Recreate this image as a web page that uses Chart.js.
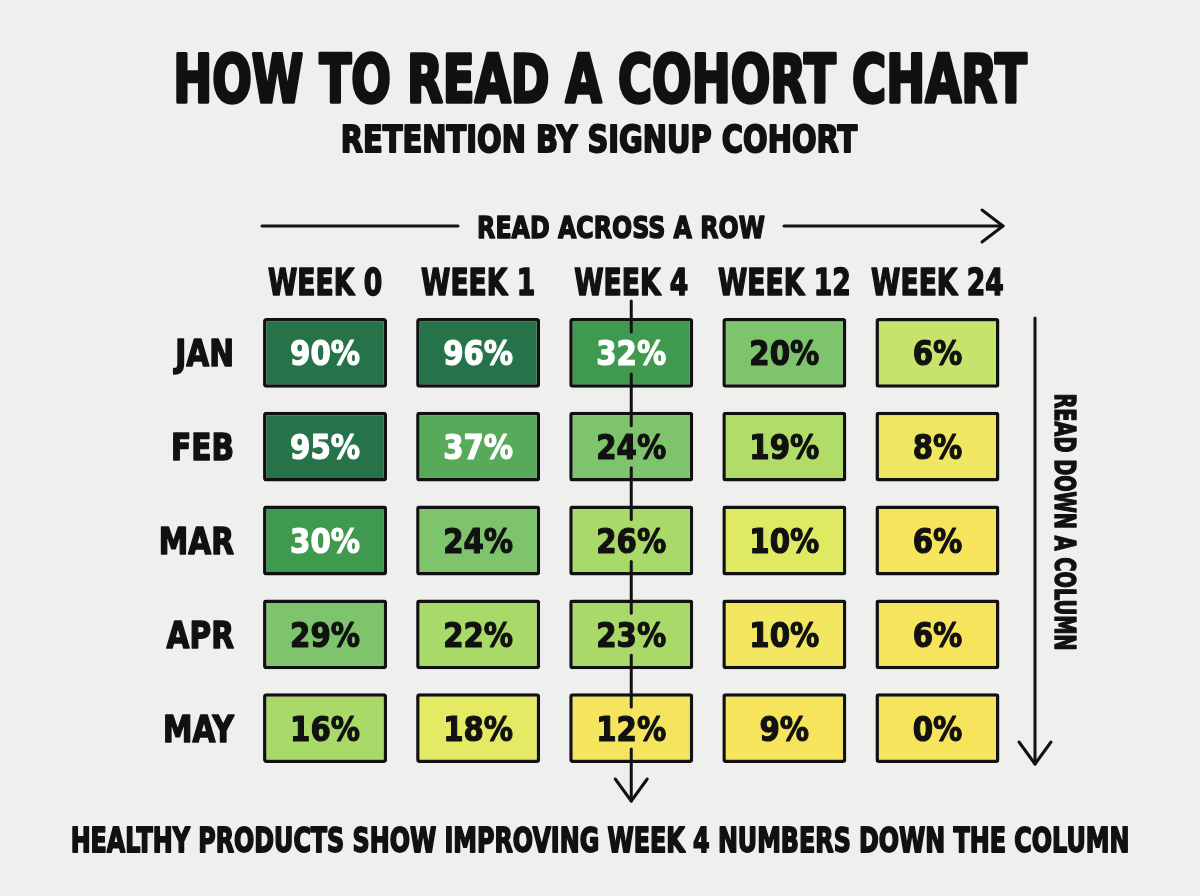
<!DOCTYPE html>
<html><head><meta charset="utf-8">
<script src="https://cdn.jsdelivr.net/npm/chart.js@4.4.1/dist/chart.umd.min.js"></script>
<style>html,body{margin:0;padding:0;background:#efefee;}canvas{display:block;}</style>
</head><body>
<canvas id="c" width="1200" height="896"></canvas>
<script>
// ---- data ----
const weeks = ['WEEK 0', 'WEEK 1', 'WEEK 4', 'WEEK 12', 'WEEK 24'];
const cohorts = ['JAN', 'FEB', 'MAR', 'APR', 'MAY'];
const jan = [90, 96, 32, 20, 6];
const feb = [95, 37, 24, 19, 8];
const mar = [30, 24, 26, 10, 6];
const apr = [29, 22, 23, 10, 6];
const may = [16, 18, 12, 9, 0];
const retention = [jan, feb, mar, apr, may];
const highlightWeek = 'WEEK 4';

const titleText = 'HOW TO READ A COHORT CHART';
const subtitleText = 'RETENTION BY SIGNUP COHORT';
const acrossText = 'READ ACROSS A ROW';
const downText = 'READ DOWN A COLUMN';
const footerText = 'HEALTHY PRODUCTS SHOW IMPROVING WEEK 4 NUMBERS DOWN THE COLUMN';

// ---- styles ----
const cellColors = [
  ['#26734a', '#26734a', '#3f9a50', '#7dc46c', '#c6e36b'],
  ['#26734a', '#56aa5a', '#7dc46c', '#b2dc6a', '#efe662'],
  ['#3f9a50', '#7dc46c', '#a9d968', '#dfea62', '#f6e45d'],
  ['#7dc46c', '#a9d968', '#a9d968', '#f3e660', '#f6e45d'],
  ['#a9d968', '#e4ea63', '#f4e45e', '#f6e45d', '#f6e45d']
];
const INK = '#111111';
const FONT = '"DejaVu Sans", "Liberation Sans", sans-serif';

function lum(hex) {
  const r = parseInt(hex.slice(1, 3), 16), g = parseInt(hex.slice(3, 5), 16), b = parseInt(hex.slice(5, 7), 16);
  return 0.299 * r + 0.587 * g + 0.114 * b;
}

function txt(ctx, s, x, y, o) {
  ctx.save();
  ctx.font = `bold ${o.size}px ${FONT}`;
  const lw = o.lw || 0;
  const w = ctx.measureText(s).width + lw;
  const sc = o.width ? o.width / w : (o.sx || 1);
  ctx.translate(x, y);
  if (o.rot) ctx.rotate(o.rot);
  ctx.scale(sc, 1);
  ctx.textAlign = o.align || 'center';
  ctx.textBaseline = 'alphabetic';
  ctx.fillStyle = o.color || INK;
  ctx.fillText(s, 0, 0);
  if (lw) {
    ctx.strokeStyle = o.color || INK;
    ctx.lineWidth = lw;
    ctx.lineJoin = 'round';
    ctx.strokeText(s, 0, 0);
  }
  ctx.restore();
}

function line(ctx, pts) {
  ctx.beginPath();
  ctx.moveTo(pts[0][0], pts[0][1]);
  for (let i = 1; i < pts.length; i++) ctx.lineTo(pts[i][0], pts[i][1]);
  ctx.stroke();
}

const HALF = 0.372;
const datasets = cohorts.map((c, i) => ({
  label: c,
  data: weeks.map(() => [i - HALF, i + HALF]),
  values: retention[i],
  backgroundColor: cellColors[i],
  borderColor: INK,
  borderWidth: 3.5,
  borderSkipped: false,
  borderRadius: 3,
  grouped: false,
  barPercentage: 0.81,
  categoryPercentage: 1
}));

const decor = {
  id: 'decor',
  beforeDraw(chart) {
    const ctx = chart.ctx;
    ctx.save();
    ctx.fillStyle = '#efefee';
    ctx.fillRect(0, 0, chart.width, chart.height);
    ctx.restore();
  },
  afterDatasetsDraw(chart) {
    const ctx = chart.ctx;
    const xs = chart.scales.x, ys = chart.scales.y;
    // cell values
    chart.data.datasets.forEach((ds, i) => {
      const meta = chart.getDatasetMeta(i);
      meta.data.forEach((el, j) => {
        const cy = (el.y + el.base) / 2;
        const col = lum(cellColors[i][j]) < 150 ? '#ffffff' : INK;
        txt(ctx, ds.values[j] + '%', el.x, cy + 12.5, { size: 34, sx: 0.86, color: col, lw: 1.2 });
      });
    });
    // week headers
    weeks.forEach((w, j) => {
      txt(ctx, w, xs.getPixelForValue(j), 295, { size: 37, sx: 0.72, lw: 1.6 });
    });
    // cohort labels
    cohorts.forEach((c, i) => {
      txt(ctx, c, 234, ys.getPixelForValue(i) + 13.5, { size: 37, sx: 0.80, align: 'right', lw: 1.6 });
    });
    ctx.save();
    ctx.strokeStyle = INK;
    ctx.lineWidth = 3;
    ctx.lineCap = 'round';
    ctx.lineJoin = 'round';
    // week 4 column guide
    const hx = xs.getPixelForValue(weeks.indexOf(highlightWeek));
    let y0 = 301;
    cohorts.forEach((c, i) => {
      const cy = ys.getPixelForValue(i);
      line(ctx, [[hx, y0], [hx, cy - 21]]);
      y0 = cy + 21;
    });
    line(ctx, [[hx, y0], [hx, 801]]);
    line(ctx, [[hx - 16, 779], [hx, 801], [hx + 16, 779]]);
    // across arrow
    line(ctx, [[262, 226], [458, 226]]);
    line(ctx, [[784, 226], [1003, 226]]);
    line(ctx, [[982, 210], [1003, 226], [982, 242]]);
    // down arrow
    line(ctx, [[1035, 318], [1035, 764]]);
    line(ctx, [[1019, 742], [1035, 764], [1051, 742]]);
    ctx.restore();
    // texts
    txt(ctx, titleText, 600, 102, { size: 65, width: 856, lw: 3.5 });
    txt(ctx, subtitleText, 599, 152, { size: 37, width: 518, lw: 2 });
    txt(ctx, acrossText, 621, 238, { size: 31, width: 289, lw: 1.6 });
    txt(ctx, downText, 1055, 522, { size: 28, width: 258, rot: Math.PI / 2, lw: 1.5 });
    txt(ctx, footerText, 600, 852, { size: 33, width: 1060, lw: 1.8 });
  }
};

new Chart(document.getElementById('c'), {
  type: 'bar',
  data: { labels: weeks, datasets },
  options: {
    responsive: false,
    animation: false,
    layout: { padding: { top: 250, left: 0, right: 186, bottom: 121 } },
    plugins: { legend: { display: false }, tooltip: { enabled: false }, title: { display: false } },
    scales: {
      x: {
        position: 'top',
        grid: { display: false },
        border: { display: false },
        ticks: { display: false },
        afterFit(s) { s.height = 56; }
      },
      y: {
        type: 'linear',
        reverse: true,
        min: -0.5,
        max: 4.5,
        grid: { display: false },
        border: { display: false },
        ticks: { display: false, stepSize: 1, callback: v => cohorts[v] },
        afterFit(s) { s.width = 248.5; }
      }
    }
  },
  plugins: [decor]
});
</script>
</body></html>
